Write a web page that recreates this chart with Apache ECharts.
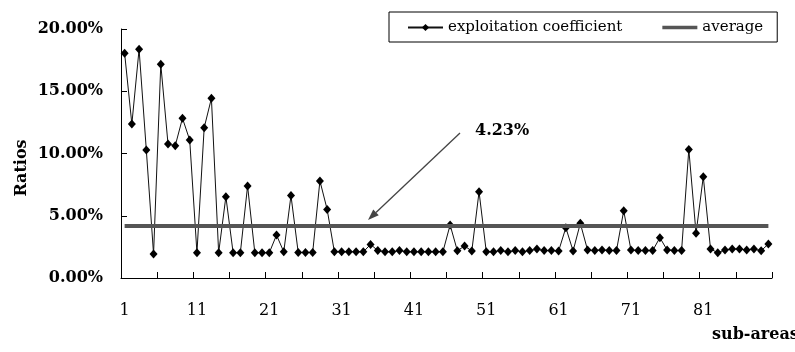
<!DOCTYPE html>
<html>
<head>
<meta charset="utf-8">
<script src="https://cdn.jsdelivr.net/npm/echarts@6/dist/echarts.min.js"></script>
<style>
html,body{margin:0;padding:0;background:#fff;}
#c{width:795px;height:352px;}
</style>
</head>
<body>
<div id="c"></div>
<script>
// sub-area categories 1..90
const categories = ['1','2','3','4','5','6','7','8','9','10','11','12','13','14','15','16','17','18','19','20','21','22','23','24','25','26','27','28','29','30','31','32','33','34','35','36','37','38','39','40','41','42','43','44','45','46','47','48','49','50','51','52','53','54','55','56','57','58','59','60','61','62','63','64','65','66','67','68','69','70','71','72','73','74','75','76','77','78','79','80','81','82','83','84','85','86','87','88','89','90'];
// exploitation coefficient (%)
const exploitation = [18.05,12.37,18.37,10.28,1.93,17.16,10.76,10.63,12.83,11.08,
  2.03,12.07,14.43,2.03,6.53,2.03,2.03,7.39,2.03,2.03,
  2.03,3.45,2.10,6.62,2.05,2.05,2.05,7.80,5.51,2.10,
  2.10,2.10,2.10,2.10,2.70,2.20,2.10,2.10,2.20,2.10,
  2.10,2.10,2.10,2.10,2.10,4.26,2.19,2.57,2.17,6.93,
  2.10,2.10,2.20,2.10,2.20,2.10,2.20,2.33,2.20,2.20,
  2.17,4.04,2.17,4.39,2.25,2.20,2.25,2.20,2.20,5.41,
  2.25,2.20,2.20,2.20,3.24,2.25,2.20,2.20,10.33,3.59,
  8.14,2.33,2.03,2.25,2.33,2.33,2.25,2.33,2.19,2.73];
const averageValue = 4.23;
const yTicks = [0, 5, 10, 15, 20];
const seriesNames = ['exploitation coefficient', 'average'];

const FONT = 'DejaVu Serif';
const chart = echarts.init(document.getElementById('c'), null, {renderer: 'canvas'});

// arrow annotation geometry
const tip = [368, 220], tail = [460, 133];
const dx = tip[0]-tail[0], dy = tip[1]-tail[1];
const len = Math.sqrt(dx*dx+dy*dy);
const ux = dx/len, uy = dy/len;
const hl = 11, hw = 4;
const bx = tip[0]-ux*hl, by = tip[1]-uy*hl;

chart.setOption({
  animation: false,
  backgroundColor: '#fff',
  grid: {left: 121, right: 23, top: 29, bottom: 74},
  legend: {
    left: 389, top: 12,
    padding: [8, 14, 7, 18],
    borderColor: '#000', borderWidth: 1,
    itemWidth: 35, itemHeight: 9, itemGap: 40,
    data: [
      {name: seriesNames[0]},
      {name: seriesNames[1], icon: 'path://M0,0H38V4H0Z', itemStyle: {color: '#555'}}
    ],
    textStyle: {fontFamily: FONT, fontSize: 15, color: '#000'}
  },
  xAxis: {
    type: 'category',
    data: categories,
    boundaryGap: true,
    axisLine: {show: true, lineStyle: {color: '#000', width: 1}},
    axisTick: {show: true, inside: true, length: 6, interval: 4, lineStyle: {color: '#000', width: 1}},
    axisLabel: {interval: 9, margin: 25, fontFamily: FONT, fontSize: 16, color: '#000'},
    splitLine: {show: false}
  },
  yAxis: {
    type: 'value',
    min: yTicks[0], max: yTicks[yTicks.length-1], interval: 5,
    axisLine: {show: true, lineStyle: {color: '#000', width: 1}},
    axisTick: {show: true, inside: true, length: 6, lineStyle: {color: '#000', width: 1}},
    axisLabel: {margin: 18, fontFamily: FONT, fontSize: 16, fontWeight: 'bold', color: '#000',
      formatter: v => v.toFixed(2) + '%'},
    splitLine: {show: false}
  },
  series: [
    {
      name: seriesNames[0],
      type: 'line',
      data: exploitation,
      symbol: 'diamond',
      symbolSize: [8, 9],
      showSymbol: true,
      showAllSymbol: true,
      itemStyle: {color: '#000'},
      lineStyle: {color: '#111', width: 1},
      z: 3
    },
    {
      name: seriesNames[1],
      type: 'line',
      data: [],
      symbol: 'none',
      itemStyle: {color: '#555'},
      lineStyle: {color: '#555', width: 4},
      z: 2,
      markLine: {
        silent: true,
        symbol: ['none', 'none'],
        label: {show: false},
        lineStyle: {color: '#555', width: 4, type: 'solid'},
        data: [[{coord: [categories[0], averageValue]}, {coord: [categories[categories.length-1], averageValue]}]]
      }
    }
  ],
  graphic: [
    {type: 'line', shape: {x1: tail[0], y1: tail[1], x2: bx, y2: by},
     style: {stroke: '#444', lineWidth: 1.3}, z: 10},
    {type: 'polygon', shape: {points: [tip, [bx + uy*hw, by - ux*hw], [bx - uy*hw, by + ux*hw]]},
     style: {fill: '#444'}, z: 10},
    {type: 'text', left: 475, top: 123,
     style: {text: averageValue.toFixed(2) + '%', font: 'bold 16px "DejaVu Serif"', fill: '#000'}, z: 10},
    {type: 'text', x: 22, y: 168, rotation: Math.PI/2,
     style: {text: 'Ratios', font: 'bold 16px "DejaVu Serif"', fill: '#000', align: 'center', verticalAlign: 'middle'}},
    {type: 'text', left: 712, top: 327,
     style: {text: 'sub-areas', font: 'bold 16px "DejaVu Serif"', fill: '#000'}}
  ]
});
</script>
</body>
</html>
